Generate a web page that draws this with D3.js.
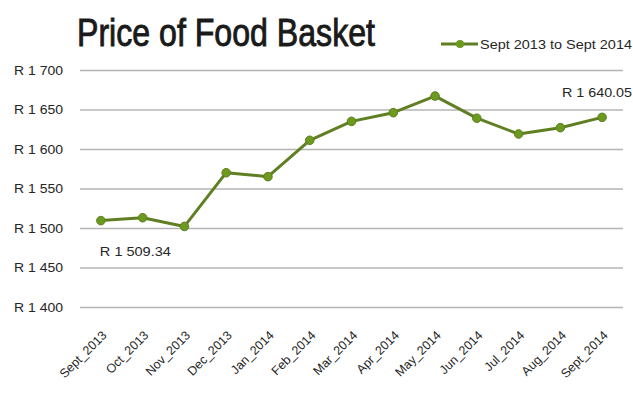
<!DOCTYPE html>
<html>
<head>
<meta charset="utf-8">
<script src="https://cdn.jsdelivr.net/npm/d3@7"></script>
<style>
  body { margin: 0; background: #fff; }
  svg text { font-family: "Liberation Sans Narrow", "Arial Narrow", "Liberation Sans", Arial, sans-serif; fill: #262626; }
</style>
</head>
<body>
<svg id="chart" width="633" height="396"></svg>
<script>
var months = ['Sept_2013', 'Oct_2013', 'Nov_2013', 'Dec_2013', 'Jan_2014', 'Feb_2014', 'Mar_2014',
              'Apr_2014', 'May_2014', 'Jun_2014', 'Jul_2014', 'Aug_2014', 'Sept_2014'];
var prices = [1509.34, 1513, 1502, 1570, 1565, 1611, 1635, 1646, 1667, 1639, 1619, 1627, 1640.05];
var yTicks = [1400, 1450, 1500, 1550, 1600, 1650, 1700];
var seriesName = 'Sept 2013 to Sept 2014';
var title = 'Price of Food Basket';

var svg = d3.select('#chart');
var lineColor = '#5f7f22',
    dotColor = '#6c9a1f';

var x = d3.scalePoint().domain(months).range([80, 623]).padding(0.5);
var y = d3.scaleLinear().domain([1400, 1700]).range([307, 70]);

var fmt = (v) => 'R 1 ' + String(v - 1000).padStart(3, '0');

// gridlines + y labels
var yAxis = d3.axisLeft(y).tickValues(yTicks).tickSize(-543).tickFormat(fmt).tickPadding(17);
var gy = svg.append('g').attr('transform', 'translate(80,0)').call(yAxis);
gy.select('.domain').remove();
gy.selectAll('.tick line').attr('stroke', '#b4b4b4').attr('stroke-width', 1.6);
gy.selectAll('.tick text')
  .attr('font-size', 12.5)
  .attr('textLength', 49)
  .attr('lengthAdjust', 'spacingAndGlyphs')
  .style('font-family', null);

// x labels
var xAxis = d3.axisBottom(x).tickSize(0);
var gx = svg.append('g').attr('transform', 'translate(3,333)').call(xAxis);
gx.select('.domain').remove();
gx.selectAll('.tick text')
  .attr('font-size', 12.5)
  .style('font-family', null)
  .attr('text-anchor', 'end')
  .attr('dy', '0.35em')
  .attr('y', 0)
  .attr('transform', 'rotate(-45)');

// line
var line = d3.line().x((d, i) => x(months[i])).y((d) => y(d));
svg.append('path')
  .datum(prices)
  .attr('fill', 'none')
  .attr('stroke', lineColor)
  .attr('stroke-width', 3)
  .attr('stroke-linejoin', 'round')
  .attr('d', line);

svg.selectAll('circle.pt')
  .data(prices)
  .enter().append('circle')
    .attr('class', 'pt')
    .attr('cx', (d, i) => x(months[i]))
    .attr('cy', (d) => y(d))
    .attr('r', 4.3)
    .attr('fill', dotColor)
    .attr('stroke', lineColor)
    .attr('stroke-width', 1);

// value labels
svg.append('text')
  .attr('x', x(months[0]) - 1)
  .attr('y', y(prices[0]) + 35)
  .attr('font-size', 13.5)
  .attr('textLength', 71)
  .attr('lengthAdjust', 'spacingAndGlyphs')
  .text('R 1 509.34');
svg.append('text')
  .attr('x', 632)
  .attr('y', y(prices[12]) - 20)
  .attr('text-anchor', 'end')
  .attr('font-size', 13.5)
  .attr('textLength', 70)
  .attr('lengthAdjust', 'spacingAndGlyphs')
  .text('R 1 640.05');

// title (regular face, thickened a little with a stroke)
svg.append('text')
  .attr('x', 77)
  .attr('y', 46)
  .attr('font-size', 38)
  .attr('textLength', 298)
  .attr('lengthAdjust', 'spacingAndGlyphs')
  .style('fill', '#1a1a1a')
  .style('stroke', '#1a1a1a')
  .style('stroke-width', 0.9)
  .text(title);

// legend
var lg = svg.append('g').attr('transform', 'translate(441,44)');
lg.append('line').attr('x1', 0).attr('x2', 37).attr('stroke', lineColor).attr('stroke-width', 3);
lg.append('circle').attr('cx', 19).attr('r', 4).attr('fill', dotColor);
lg.append('text')
  .attr('x', 39)
  .attr('y', 4.5)
  .attr('font-size', 12.5)
  .attr('textLength', 152)
  .attr('lengthAdjust', 'spacingAndGlyphs')
  .text(seriesName);
</script>
</body>
</html>
